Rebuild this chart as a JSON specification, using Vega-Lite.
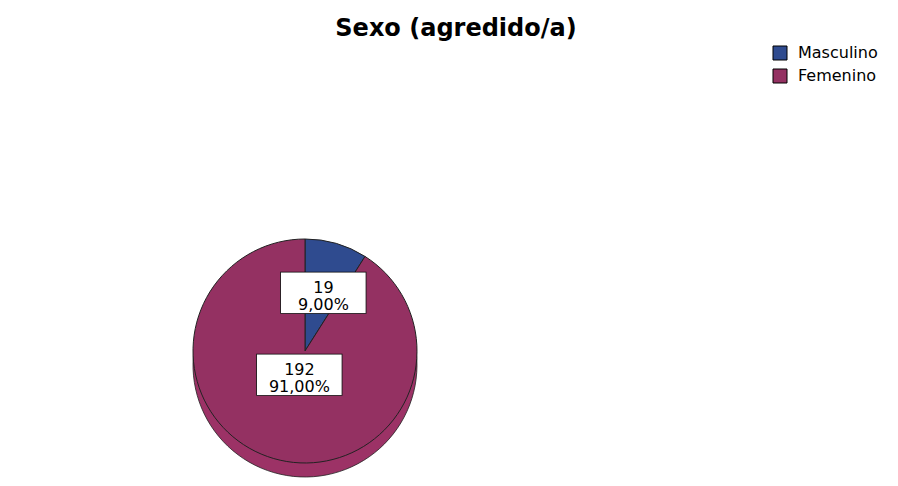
{
  "$schema": "https://vega.github.io/schema/vega-lite/v6.json",
  "autosize": {"type": "none"},
  "width": 610,
  "height": 250,
  "padding": {"left": 0, "top": 226, "right": 288, "bottom": 10},
  "background": "white",
  "title": {
    "text": "Sexo (agredido/a)",
    "anchor": "middle",
    "dx": 151,
    "dy": 0,
    "font": "DejaVu Sans",
    "fontSize": 24,
    "fontWeight": "bold",
    "color": "black"
  },
  "data": {
    "values": [
      {"sexo": "Masculino", "n": 19, "pct": "9,00%"},
      {"sexo": "Femenino", "n": 192, "pct": "91,00%"}
    ]
  },
  "transform": [{"calculate": "datum.n + '|' + datum.pct", "as": "label"}],
  "encoding": {
    "theta": {"field": "n", "type": "quantitative", "stack": true},
    "order": {"field": "n", "sort": "ascending"}
  },
  "layer": [
    {
      "mark": {"type": "arc", "outerRadius": 112, "yOffset": 14, "fill": "#9C3266", "stroke": "#222222", "strokeWidth": 0.8},
      "encoding": {}
    },
    {
      "mark": {"type": "arc", "outerRadius": 112, "stroke": "#222222", "strokeWidth": 1},
      "encoding": {
        "color": {
          "field": "sexo",
          "type": "nominal",
          "sort": ["Masculino", "Femenino"],
          "scale": {"domain": ["Masculino", "Femenino"], "range": ["#2F4B8F", "#943162"]},
          "legend": {
            "orient": "none",
            "legendX": 772,
            "legendY": -181,
            "title": null,
            "symbolType": "square",
            "symbolSize": 196,
            "symbolStrokeColor": "black",
            "symbolStrokeWidth": 1,
            "symbolOpacity": 1,
            "labelFont": "DejaVu Sans",
            "labelFontSize": 16,
            "labelOffset": 10,
            "labelColor": "black",
            "rowPadding": 5
          }
        }
      }
    },
    {
      "mark": {"type": "text", "font": "DejaVu Sans", "fontSize": 112, "fill": "white", "stroke": "black", "strokeWidth": 0.8, "align": "center", "baseline": "middle"},
      "encoding": {
        "text": {"value": "▬"},
        "radius": {"field": "n", "type": "quantitative", "scale": {"type": "linear", "domain": [19, 192], "range": [66, 20], "zero": false}}
      }
    },
    {
      "mark": {"type": "text", "font": "DejaVu Sans", "fontSize": 16, "lineBreak": "|", "lineHeight": 17, "fill": "black", "align": "center", "baseline": "middle"},
      "encoding": {
        "text": {"field": "label", "type": "nominal"},
        "radius": {"field": "n", "type": "quantitative", "scale": {"type": "linear", "domain": [19, 192], "range": [66, 20], "zero": false}}
      }
    }
  ]
}
